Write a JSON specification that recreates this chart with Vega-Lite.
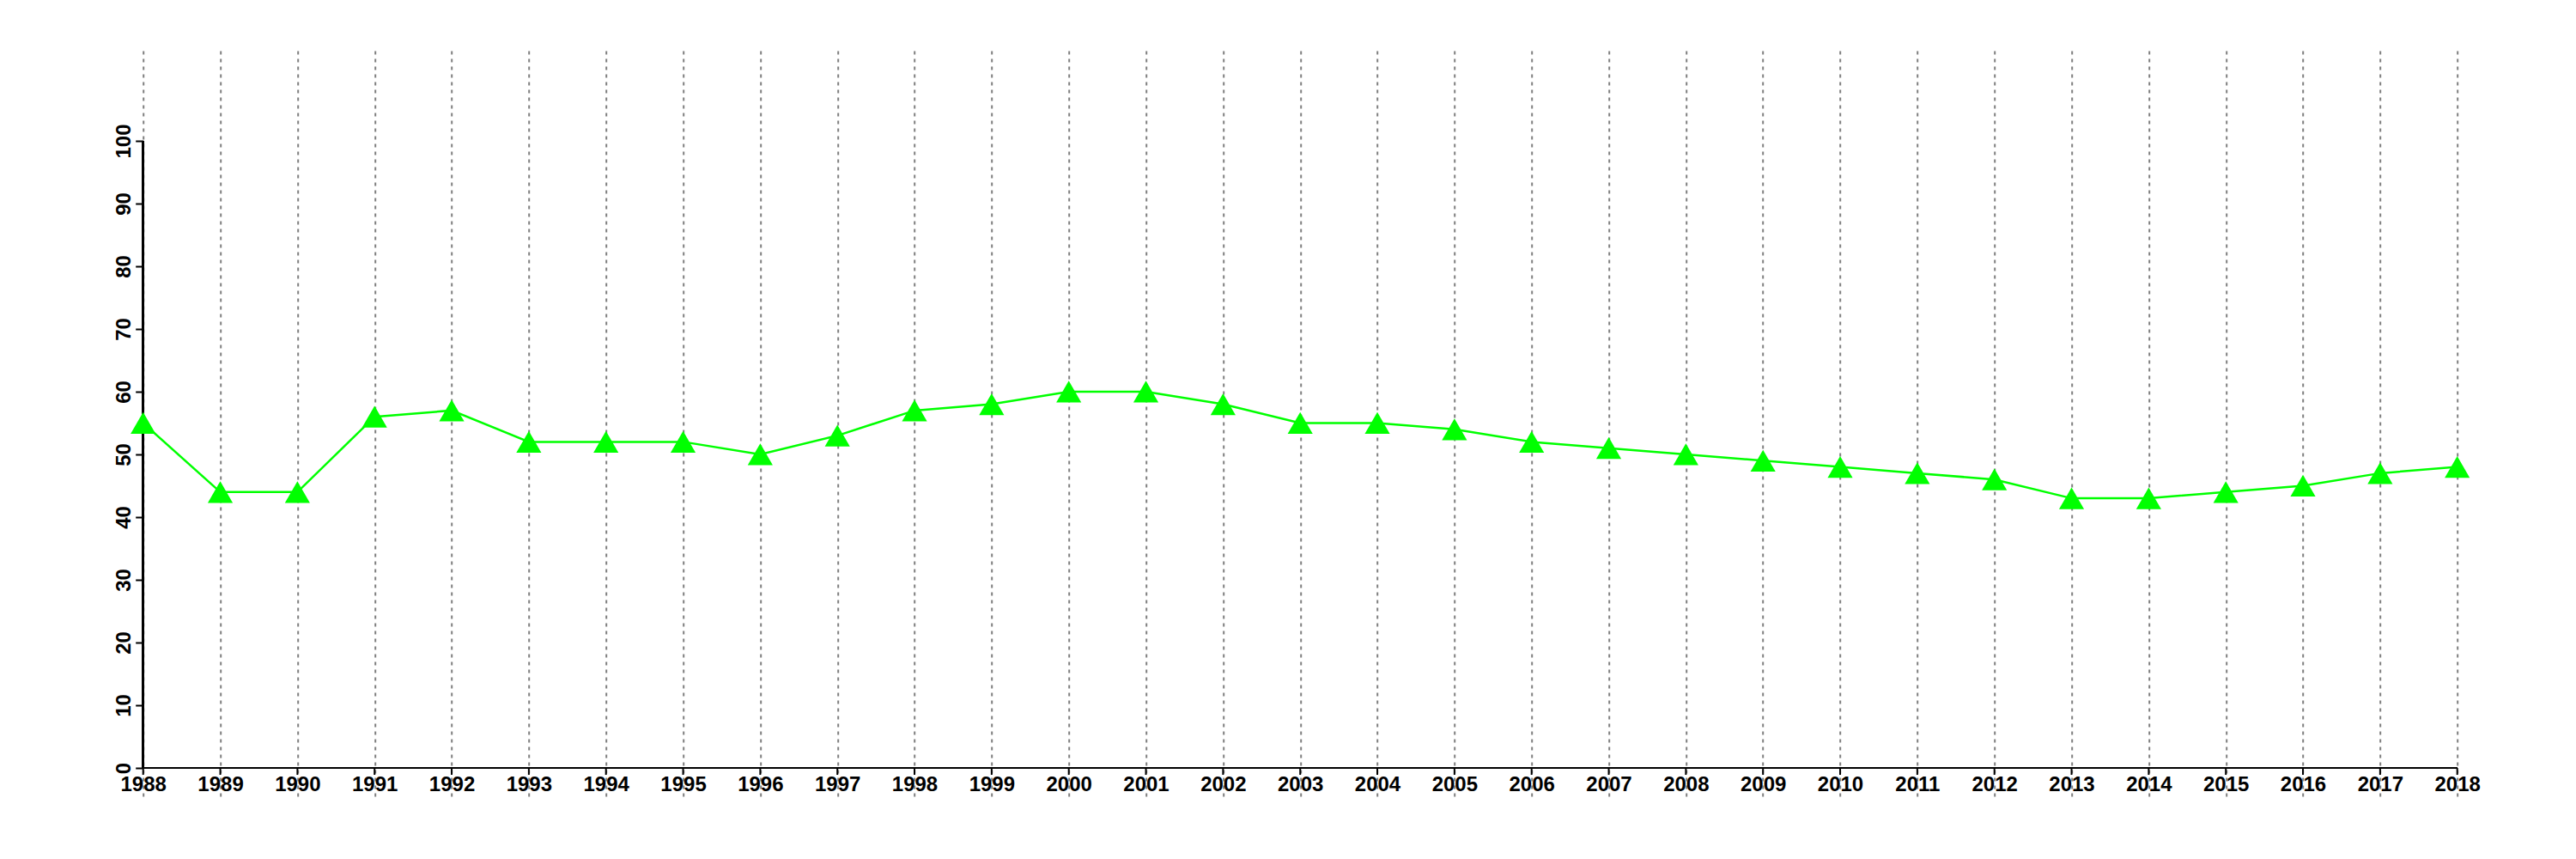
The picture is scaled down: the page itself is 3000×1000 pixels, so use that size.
{
  "$schema": "https://vega.github.io/schema/vega-lite/v6.json",
  "width": 2695,
  "height": 868,
  "autosize": {"type": "none"},
  "padding": {"left": 166.7, "top": 59, "right": 138, "bottom": 73},
  "background": "white",
  "config": {
    "view": {"stroke": null},
    "font": "Liberation Sans",
    "axis": {"labelFont": "Liberation Sans", "labelFontWeight": "bold", "labelFontSize": 24, "labelColor": "black"}
  },
  "data": {
    "values": [
      {"year": 1988, "value": 55},
      {"year": 1989, "value": 44},
      {"year": 1990, "value": 44},
      {"year": 1991, "value": 56},
      {"year": 1992, "value": 57},
      {"year": 1993, "value": 52},
      {"year": 1994, "value": 52},
      {"year": 1995, "value": 52},
      {"year": 1996, "value": 50},
      {"year": 1997, "value": 53},
      {"year": 1998, "value": 57},
      {"year": 1999, "value": 58},
      {"year": 2000, "value": 60},
      {"year": 2001, "value": 60},
      {"year": 2002, "value": 58},
      {"year": 2003, "value": 55},
      {"year": 2004, "value": 55},
      {"year": 2005, "value": 54},
      {"year": 2006, "value": 52},
      {"year": 2007, "value": 51},
      {"year": 2008, "value": 50},
      {"year": 2009, "value": 49},
      {"year": 2010, "value": 48},
      {"year": 2011, "value": 47},
      {"year": 2012, "value": 46},
      {"year": 2013, "value": 43},
      {"year": 2014, "value": 43},
      {"year": 2015, "value": 44},
      {"year": 2016, "value": 45},
      {"year": 2017, "value": 47},
      {"year": 2018, "value": 48}
    ]
  },
  "layer": [
    {
      "mark": {"type": "rule", "color": "black", "strokeWidth": 2},
      "encoding": {
        "x": {"field": "year", "type": "quantitative", "scale": {"domain": [1988, 2018], "nice": false, "zero": false},
          "axis": {"title": null, "values": [1988,1989,1990,1991,1992,1993,1994,1995,1996,1997,1998,1999,2000,2001,2002,2003,2004,2005,2006,2007,2008,2009,2010,2011,2012,2013,2014,2015,2016,2017,2018],
            "format": "d", "grid": true, "gridDash": [4, 5], "gridColor": "#7f7f7f", "gridWidth": 2, "gridOpacity": 1,
            "domain": false, "ticks": false, "tickSize": 0, "labelBaseline": "alphabetic", "labelPadding": -6, "labelFlush": false, "labelOverlap": false}},
        "y": {"datum": 0, "type": "quantitative", "scale": {"domain": [-4.52, 114.38], "nice": false, "zero": false},
          "axis": {"title": null, "values": [0,10,20,30,40,50,60,70,80,90,100], "grid": false, "domain": false,
            "ticks": true, "tickSize": 9, "tickWidth": 2, "tickColor": "black", "labelAngle": -90, "labelBaseline": "alphabetic", "labelAlign": "center", "labelPadding": 6}},
        "y2": {"datum": -1.1}
      }
    },
    {
      "mark": {"type": "rule", "color": "black", "strokeWidth": 2},
      "encoding": {
        "x": {"datum": 1988, "type": "quantitative"},
        "x2": {"datum": 2018},
        "y": {"datum": 0, "type": "quantitative"}
      }
    },
    {
      "mark": {"type": "rule", "color": "black", "strokeWidth": 2},
      "encoding": {
        "x": {"datum": 1988, "type": "quantitative"},
        "y": {"datum": 0, "type": "quantitative"},
        "y2": {"datum": 100}
      }
    },
    {
      "mark": {"type": "line", "color": "#00ff00", "strokeWidth": 2.5},
      "encoding": {
        "x": {"field": "year", "type": "quantitative"},
        "y": {"field": "value", "type": "quantitative"}
      }
    },
    {
      "mark": {"type": "point", "shape": "triangle-up", "size": 850, "filled": true, "color": "#00ff00", "opacity": 1},
      "encoding": {
        "x": {"field": "year", "type": "quantitative"},
        "y": {"field": "value", "type": "quantitative"}
      }
    }
  ]
}
